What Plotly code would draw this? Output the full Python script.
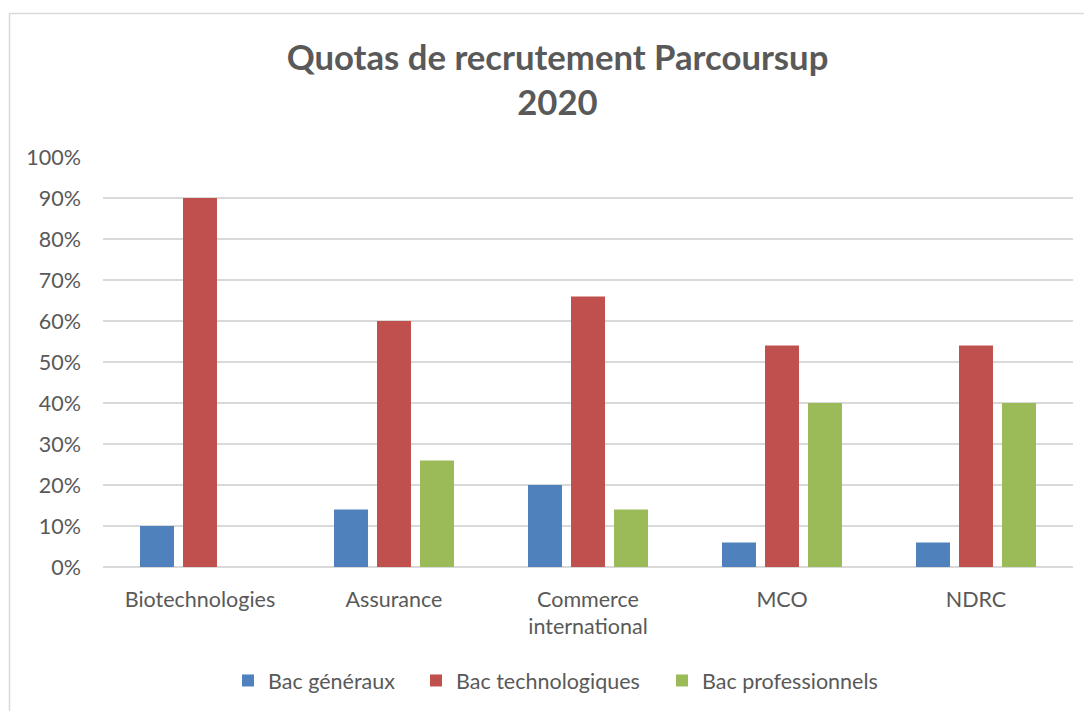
import plotly.graph_objects as go

categories = ["Biotechnologies", "Assurance", "Commerce<br>international", "MCO", "NDRC"]
series_names = ["Bac généraux", "Bac technologiques", "Bac professionnels"]
bac_generaux = [0.10, 0.14, 0.20, 0.06, 0.06]
bac_technologiques = [0.90, 0.60, 0.66, 0.54, 0.54]
bac_professionnels = [0.0, 0.26, 0.14, 0.40, 0.40]
colors = ["#4F81BD", "#C0504D", "#9BBB59"]
legend_widths = [143, 201, None]
y_ticks = [i / 10 for i in range(11)]

# page body has an 8px margin: figure sits at (8, 8)
OFF = 8
W, H = 1092 - OFF, 711 - OFF
L, R, T, B = 103 - OFF, W - (1073 - OFF), 157 - OFF, H - (567 - OFF)
pw, ph = W - L - R, H - T - B

FONT = "Lato"
GREY = "#595959"

fig = go.Figure()
for name, vals, col, lw in zip(series_names, [bac_generaux, bac_technologiques, bac_professionnels], colors, legend_widths):
    fig.add_trace(go.Bar(x=categories, y=vals, name=name, legendwidth=lw,
                         marker=dict(color=col, line=dict(width=0))))

def px_x(p):
    return (p - OFF - L) / pw

def px_y(p):
    return (H - B - (p - OFF)) / ph

fig.update_layout(
    width=W, height=H, autosize=False,
    margin=dict(l=L, r=R, t=T, b=B, autoexpand=False),
    paper_bgcolor="white", plot_bgcolor="white",
    barmode="group", bargap=0.335, bargroupgap=0.21,
    title=dict(
        text="Quotas de recrutement Parcoursup<br>2020",
        x=(557.5 - OFF) / W, xanchor="center", y=1 - (70 - OFF) / H, yanchor="top",
        font=dict(family=FONT, size=34.7, color=GREY, weight="bold"),
    ),
    font=dict(family=FONT, size=21.5, color=GREY),
    showlegend=True,
    legend=dict(
        orientation="h", x=px_x(228), xanchor="left", y=px_y(660), yanchor="top",
        font=dict(family=FONT, size=21.5, color=GREY), traceorder="normal",
        bgcolor="rgba(0,0,0,0)",
    ),
    xaxis=dict(
        showgrid=False, showline=False, zeroline=False, ticks="", automargin=False,
        tickfont=dict(family=FONT, size=21.5, color=GREY), ticklabelstandoff=17,
    ),
    yaxis=dict(
        range=[0, 1.0], tickvals=y_ticks, tickformat=".0%", automargin=False,
        showgrid=True, gridcolor="#D9D9D9", gridwidth=1.5,
        zeroline=True, zerolinecolor="#D9D9D9", zerolinewidth=1.5,
        showline=False, ticks="",
        tickfont=dict(family=FONT, size=21.5, color=GREY), ticklabelstandoff=21,
    ),
    shapes=[dict(
        type="rect", xref="paper", yref="paper",
        x0=px_x(9.5), x1=px_x(1110), y0=px_y(730), y1=px_y(13.5),
        line=dict(color="#D9D9D9", width=1.5), fillcolor="rgba(0,0,0,0)", layer="below",
    )],
)

fig.write_html("out.html")
